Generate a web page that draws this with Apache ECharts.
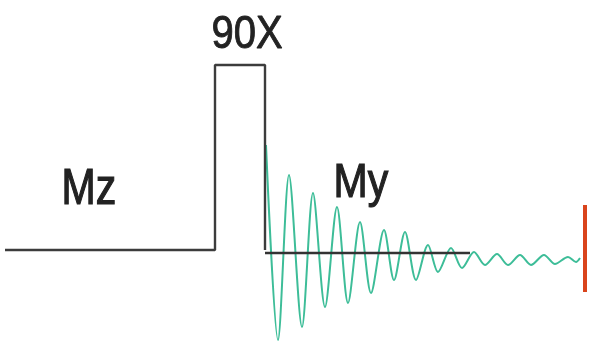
<!DOCTYPE html>
<html><head><meta charset="utf-8">
<script src="https://cdn.jsdelivr.net/npm/echarts@6/dist/echarts.min.js"></script>
<style>html,body{margin:0;padding:0;background:#fff}#c{width:592px;height:347px}</style>
</head><body><div id="c"></div>
<script>
// Pulse sequence (time, level)
const pulseTime = [5, 215, 215, 265, 265];
const pulseLevel = [0, 0, 185, 185, 0];
// Baseline under FID
const baseTime = [265, 470];
const baseLevel = [-3, -3];
// FID (My) extrema: time, amplitude
const fidTime = [266, 278, 289, 302, 313, 325, 337, 348, 360, 371, 384, 394, 405, 416, 428, 438, 451, 462, 474, 485, 497, 508, 520, 531, 544, 555, 568, 576, 580];
const fidAmp  = [105, -90, 75, -77, 57, -57, 43, -53, 28, -43, 20, -30, 18, -30, 5, -22, 2, -18, -2, -15, -4, -15, -5, -15, -5, -14, -7, -12, -8];
// Acquisition end marker
const markerTime = [585, 585];
const markerLevel = [45, -42];
// Labels
const labels = ['90X', 'Mz', 'My'];

const zip = (a, b) => a.map((v, i) => [v, b[i]]);
const font = '41px Arial, "Liberation Sans", sans-serif';
const chart = echarts.init(document.getElementById('c'));
chart.setOption({
  animation: false,
  grid: {left: 0, right: 0, top: 0, bottom: 0},
  xAxis: {type: 'value', min: 0, max: 592, show: false},
  yAxis: {type: 'value', min: -97, max: 250, show: false},
  series: [
    {type: 'line', data: zip(fidTime, fidAmp), smooth: 0.3, symbol: 'none',
     lineStyle: {color: '#3dbd98', width: 2}},
    {type: 'line', data: zip(baseTime, baseLevel), symbol: 'none',
     lineStyle: {color: '#333', width: 2.4}},
    {type: 'line', data: zip(pulseTime, pulseLevel), symbol: 'none',
     lineStyle: {color: '#3c3c3c', width: 2.4}},
    {type: 'line', data: zip(markerTime, markerLevel), symbol: 'none',
     lineStyle: {color: '#d9441c', width: 4}}
  ],
  graphic: [
    {type: 'text', left: 211, top: 12, scaleY: 1.15, style: {text: labels[0], font: '40px Arial, "Liberation Sans", sans-serif', fill: '#222', stroke: '#222', lineWidth: 0.8}},
    {type: 'text', left: 61, top: 165, scaleY: 1.2, style: {text: labels[1], font: font, fill: '#222', stroke: '#222', lineWidth: 1}},
    {type: 'text', left: 333, top: 160, scaleY: 1.15, style: {text: labels[2], font: font, fill: '#222', stroke: '#222', lineWidth: 1}}
  ]
});
</script></body></html>
